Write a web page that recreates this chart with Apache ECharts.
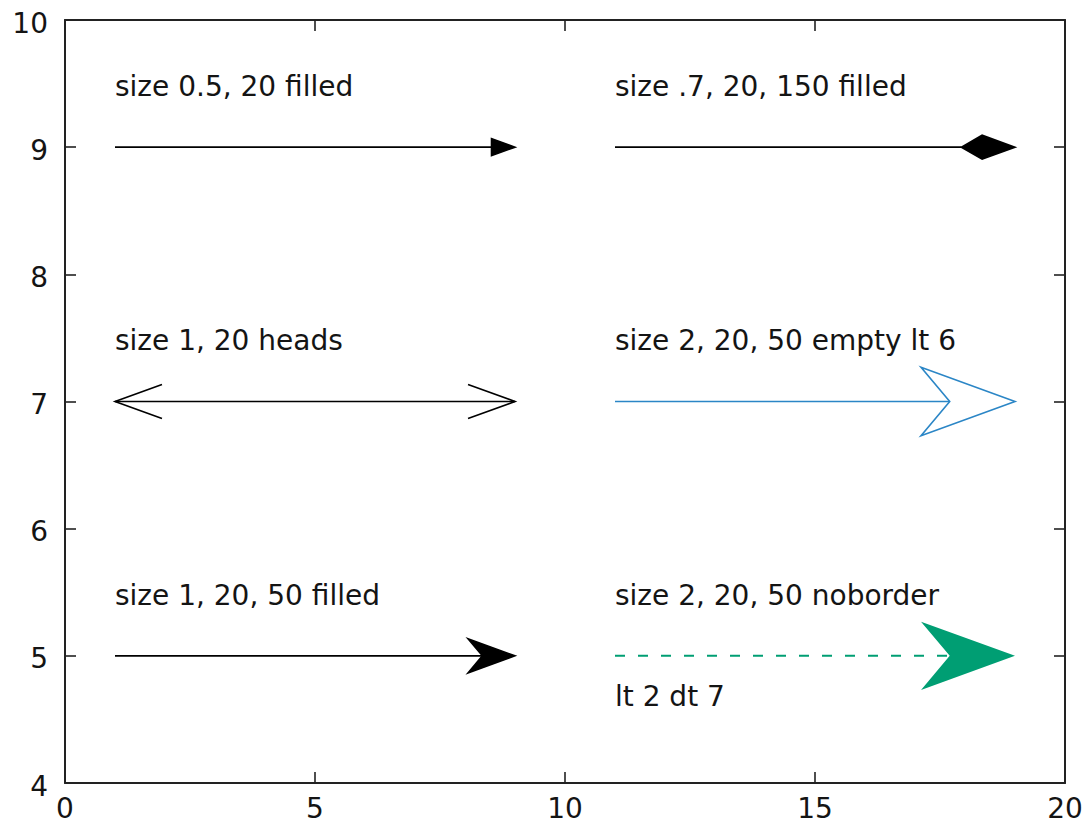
<!DOCTYPE html>
<html>
<head>
<meta charset="utf-8">
<script src="https://cdn.jsdelivr.net/npm/echarts@6/dist/echarts.min.js"></script>
<style>html,body{margin:0;padding:0;background:#fff}#c{width:1092px;height:833px}
svg text{font-variant-ligatures:none;font-feature-settings:"liga" 0}</style>
</head>
<body>
<div id="c"></div>
<script>
// ---- data ----
const arrowX0 = [1, 11, 1, 11, 1, 11];
const arrowY0 = [9, 9, 7, 7, 5, 5];
const arrowX1 = [9, 19, 9, 19, 9, 19];
const arrowY1 = [9, 9, 7, 7, 5, 5];
const headLength = [0.5, 0.7, 1, 2, 1, 2];
const headAngle = [20, 20, 20, 20, 20, 20];
const headBackAngle = [90, 150, 90, 50, 50, 50];
const headKind = ['filled', 'filled', 'heads', 'empty', 'filled', 'noborder'];

const labelX = [1, 11, 1, 11, 1, 11, 11];
const labelY = [9.5, 9.5, 7.5, 7.5, 5.5, 5.5, 4.7];
const labelText = ['size 0.5, 20 filled', 'size .7, 20, 150 filled', 'size 1, 20 heads',
  'size 2, 20, 50 empty lt 6', 'size 1, 20, 50 filled', 'size 2, 20, 50 noborder', 'lt 2 dt 7'];

const xTicks = [0, 5, 10, 15, 20];
const yTicks = [4, 5, 6, 7, 8, 9, 10];

// ---- styles ----
const arrowColor = ['#000000', '#000000', '#000000', '#2b86c6', '#000000', '#009e73'];
const arrowDash = [null, null, null, null, null, [10, 13]];
const FONT = 'DejaVu Sans';
const FS = 28;
const TXT = '#141414';

const chart = echarts.init(document.getElementById('c'), null, {renderer: 'svg'});

const arrowData = arrowX0.map((x, i) => [x, arrowY0[i], arrowX1[i], arrowY1[i]]);
const labelData = labelX.map((x, i) => [x, labelY[i]]);

function renderArrow(params, api) {
  const i = params.dataIndex;
  const p0 = api.coord([api.value(0), api.value(1)]);
  const p1 = api.coord([api.value(2), api.value(3)]);
  const ppu = api.size([1, 0])[0];
  const L = headLength[i] * ppu;
  const a = headAngle[i] * Math.PI / 180;
  const b = headBackAngle[i] * Math.PI / 180;
  let dx = p1[0] - p0[0], dy = p1[1] - p0[1];
  const len = Math.hypot(dx, dy); dx /= len; dy /= len;
  const nx = -dy, ny = dx;
  const Lc = L * Math.cos(a), h = L * Math.sin(a);
  const notchD = headBackAngle[i] === 90 ? Lc : Lc - h / Math.tan(b);
  function head(tip, sx, sy) {
    return {
      w1: [tip[0] - sx * Lc + nx * h, tip[1] - sy * Lc + ny * h],
      w2: [tip[0] - sx * Lc - nx * h, tip[1] - sy * Lc - ny * h],
      notch: [tip[0] - sx * notchD, tip[1] - sy * notchD]
    };
  }
  const color = arrowColor[i];
  const kind = headKind[i];
  const children = [];
  const lw = 1.6;
  if (kind === 'heads') {
    children.push({type: 'line', shape: {x1: p0[0], y1: p0[1], x2: p1[0], y2: p1[1]},
      style: {stroke: color, lineWidth: lw}});
    const hA = head(p1, dx, dy), hB = head(p0, -dx, -dy);
    children.push({type: 'polyline', shape: {points: [hA.w1, p1, hA.w2]}, style: {stroke: color, lineWidth: lw, fill: null}});
    children.push({type: 'polyline', shape: {points: [hB.w1, p0, hB.w2]}, style: {stroke: color, lineWidth: lw, fill: null}});
  } else {
    const hd = head(p1, dx, dy);
    children.push({type: 'line', shape: {x1: p0[0], y1: p0[1], x2: hd.notch[0], y2: hd.notch[1]},
      style: {stroke: color, lineWidth: arrowDash[i] ? 2 : lw, lineDash: arrowDash[i]}});
    const pts = [p1, hd.w1, hd.notch, hd.w2];
    if (kind === 'filled') {
      children.push({type: 'polygon', shape: {points: pts}, style: {fill: color, stroke: color, lineWidth: lw, lineJoin: 'miter'}});
    } else if (kind === 'empty') {
      children.push({type: 'polygon', shape: {points: pts}, style: {fill: 'none', stroke: color, lineWidth: lw, lineJoin: 'miter'}});
    } else {
      children.push({type: 'polygon', shape: {points: pts}, style: {fill: color}});
    }
  }
  return {type: 'group', children};
}

function renderLabel(params, api) {
  const p = api.coord([api.value(0), api.value(1)]);
  return {type: 'text', x: p[0], y: p[1] + 3,
    style: {text: labelText[params.dataIndex], fill: TXT, font: FS + 'px "' + FONT + '"',
      textAlign: 'left', textVerticalAlign: 'middle'}};
}

const axisLineStyle = {color: '#222', width: 2};
const tickStyle = {color: '#222', width: 1.6};
chart.setOption({
  animation: false,
  backgroundColor: '#fff',
  textStyle: {fontFamily: FONT},
  grid: {left: 65, right: 27, top: 20, bottom: 50, show: false},
  xAxis: [
    {type: 'value', min: xTicks[0], max: xTicks[xTicks.length - 1], interval: 5, position: 'bottom',
      axisLine: {show: true, onZero: false, lineStyle: axisLineStyle},
      axisTick: {show: true, inside: true, length: 11, lineStyle: tickStyle},
      axisLabel: {color: TXT, fontSize: FS, fontFamily: FONT, margin: 11},
      splitLine: {show: false}},
    {type: 'value', min: xTicks[0], max: xTicks[xTicks.length - 1], interval: 5, position: 'top',
      axisLine: {show: true, onZero: false, lineStyle: axisLineStyle},
      axisTick: {show: true, inside: true, length: 11, lineStyle: tickStyle},
      axisLabel: {show: false}, splitLine: {show: false}}
  ],
  yAxis: [
    {type: 'value', min: yTicks[0], max: yTicks[yTicks.length - 1], interval: 1, position: 'left',
      axisLine: {show: true, onZero: false, lineStyle: axisLineStyle},
      axisTick: {show: true, inside: true, length: 11, lineStyle: tickStyle},
      axisLabel: {color: TXT, fontSize: FS, fontFamily: FONT, margin: 17,
        formatter: '{a|{value}}',
        rich: {a: {color: TXT, fontSize: FS, fontFamily: FONT, padding: [6, 0, 0, 0]}}},
      splitLine: {show: false}},
    {type: 'value', min: yTicks[0], max: yTicks[yTicks.length - 1], interval: 1, position: 'right',
      axisLine: {show: true, onZero: false, lineStyle: axisLineStyle},
      axisTick: {show: true, inside: true, length: 11, lineStyle: tickStyle},
      axisLabel: {show: false}, splitLine: {show: false}}
  ],
  series: [
    {type: 'custom', xAxisIndex: 0, yAxisIndex: 0, renderItem: renderArrow, data: arrowData,
      encode: {x: [0, 2], y: [1, 3]}, silent: true},
    {type: 'custom', xAxisIndex: 0, yAxisIndex: 0, renderItem: renderLabel, data: labelData,
      encode: {x: 0, y: 1}, silent: true}
  ]
});
</script>
</body>
</html>
